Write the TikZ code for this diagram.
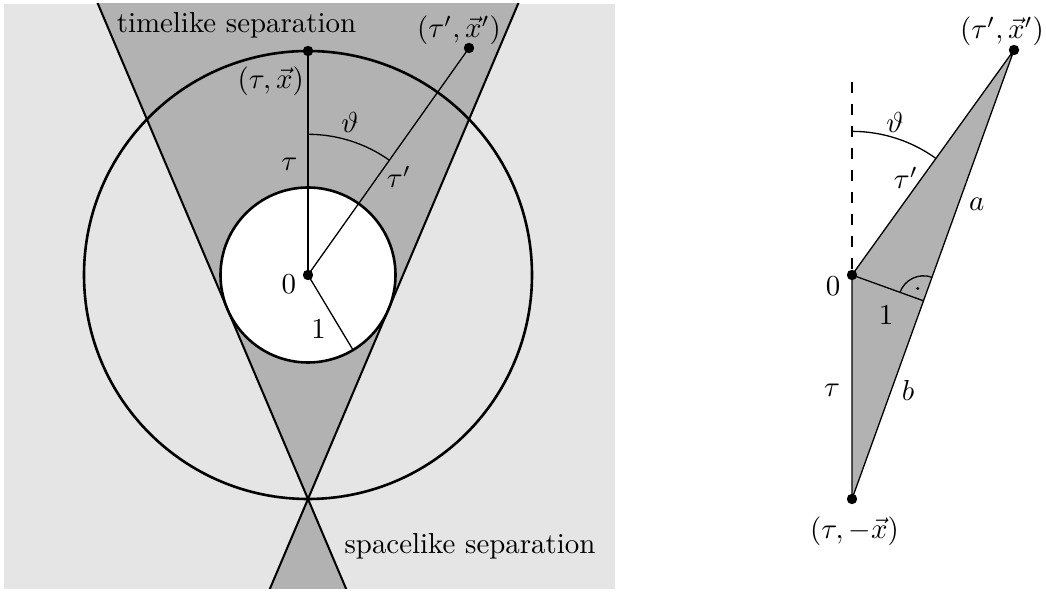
\documentclass[tikz,border=0pt]{standalone}
\usetikzlibrary{calc}
\definecolor{lightbg}{gray}{0.9}
\definecolor{conegray}{gray}{0.7}
\begin{document}
\begin{tikzpicture}[x=0.346pt,y=-0.346pt,
  thinline/.style={line width=0.45pt},
  coneline/.style={line width=0.7pt},
  thickcirc/.style={line width=0.9pt},
  lbl/.style={inner sep=0pt, outer sep=0pt}]
\useasboundingbox (0,0) rectangle (1046,594);
% ---------------- left panel ----------------
\coordinate (bgA) at (4,4);
\coordinate (bgB) at (615,589);
\fill[lightbg] (bgA) rectangle (bgB);
\coordinate (O) at (308,275);
\coordinate (T) at (308,51);
\coordinate (A) at (308,499);
\coordinate (Q) at (469,48);
\coordinate (CL) at (92.04,-10);
\coordinate (CR) at (523.96,-10);
\coordinate (DL) at (265.15,600);
\coordinate (DR) at (350.85,600);
\begin{scope}
  \clip (bgA) rectangle (bgB);
  \fill[conegray] (A) -- (CL) -- (CR) -- cycle;
  \fill[conegray] (A) -- (DL) -- (DR) -- cycle;
  \fill[white] (O) circle[radius=30.275pt];
  \draw[coneline] (CL) -- (DR);
  \draw[coneline] (CR) -- (DL);
\end{scope}
\coordinate (R1) at ($(O)+(-59:30.275pt)$);
\draw[thinline] (O) -- (T);
\draw[thinline] (O) -- (Q);
\draw[thinline] (O) -- (R1);
\draw[thinline] ($(O)+(90:48.68pt)$) arc[start angle=90,end angle=54.66,radius=48.68pt];
\draw[thickcirc] (O) circle[radius=77.504pt];
\draw[thickcirc] (O) circle[radius=30.275pt];
\fill (O) circle[radius=1.8pt];
\fill (T) circle[radius=1.8pt];
\fill (Q) circle[radius=1.8pt];
\node[lbl] (tl) at (236.5,25.5) {timelike separation};
\node[lbl] (qlab) at (459,30.5) {$(\tau',\vec{x}')$};
\node[lbl] (tlab) at (270.7,81.3) {$(\tau,\vec{x})$};
\node[lbl] (th1) at (350,122.7) {$\vartheta$};
\node[lbl] (ta1) at (289.3,164) {$\tau$};
\node[lbl] (tp1) at (399,177) {$\tau'$};
\node[lbl] (z1) at (288.8,284) {$0$};
\node[lbl] (o1) at (318.7,329.2) {$1$};
\node[lbl] (sl) at (470,545.8) {spacelike separation};
% ---------------- right panel ----------------
\coordinate (O2) at (852,275);
\coordinate (B) at (852,499);
\coordinate (P2) at (1014,50);
\coordinate (D) at (852,82);
\coordinate (F) at ($(B)!(O2)!(P2)$);
\fill[conegray] (B) -- (O2) -- (P2) -- cycle;
\draw[thinline] (B) -- (O2) -- (P2) -- cycle;
\draw[thinline] (O2) -- (F);
\draw[thinline, dash pattern=on 3.8pt off 3.8pt] (D) -- (O2);
\draw[thinline] ($(O2)+(90:49.7pt)$) arc[start angle=90,end angle=54.25,radius=49.7pt];
\draw[thinline] ($(F)+(70.16:8.65pt)$) arc[start angle=70.16,end angle=160.16,radius=8.65pt];
\fill ($(F)+(115.16:4.7pt)$) circle[radius=0.55pt];
\fill (O2) circle[radius=1.8pt];
\fill (B) circle[radius=1.8pt];
\fill (P2) circle[radius=1.8pt];
\node[lbl] (qlab2) at (1002,31.4) {$(\tau',\vec{x}')$};
\node[lbl] (th2) at (895,122.6) {$\vartheta$};
\node[lbl] (tp2) at (906,178) {$\tau'$};
\node[lbl] (al) at (976.7,204.5) {$a$};
\node[lbl] (z2) at (833,286.6) {$0$};
\node[lbl] (o2) at (886.2,315) {$1$};
\node[lbl] (ta2) at (832,390.3) {$\tau$};
\node[lbl] (bl) at (908,390.3) {$b$};
\node[lbl] (blab) at (854.5,531.2) {$(\tau,-\vec{x})$};
\end{tikzpicture}
\end{document}
